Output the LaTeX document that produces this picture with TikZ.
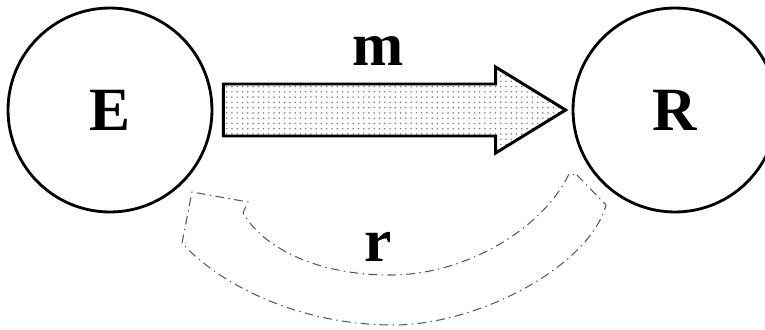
\documentclass[tikz,border=0pt]{standalone}
\usepackage{fontspec}
\setmainfont{Liberation Serif}
\usetikzlibrary{calc,patterns}
\begin{document}
\begin{tikzpicture}[x=0.02cm, y=-0.02cm,
  party/.style={draw, circle, line width=1.6pt, minimum size=4.08cm,
                font=\fontsize{35}{35}\selectfont\bfseries},
  lab/.style={font=\fontsize{35}{35}\selectfont\bfseries},
  msg/.style={draw, line width=1.7pt, line join=miter, pattern=dots, pattern color=gray},
  reply/.style={draw=black!65, line width=0.6pt,
                dash pattern=on 5pt off 2.5pt on 0.8pt off 2.5pt}]
\clip (0,0) rectangle (765,329);
\node[party] (E) at (110,110) {E};
\node[party] (R) at (675,110) {R};
\coordinate (tip) at ($(R.west)+(-6,0)$);
\draw[msg] ($(E.east)+(10,-26)$) -- ($(tip)+(-70,-26)$) -- ++(0,-17) -- (tip)
  -- ++(-70,43) -- ++(0,-17) -- ($(E.east)+(10,26)$) -- cycle;
\node[lab] (m) at (378,51) {m};
\draw[reply] (577,175) -- (606,205) .. controls (590,265) and (480,325) .. (393,325)
  .. controls (300,325) and (220,285) .. (182,243) -- (192,192) -- (248,202) -- (243,213)
  .. controls (265,250) and (320,275) .. (390,275)
  .. controls (470,275) and (545,225) .. (569,174) -- cycle;
\node[lab] (r) at (378,247) {r};
\end{tikzpicture}
\end{document}
